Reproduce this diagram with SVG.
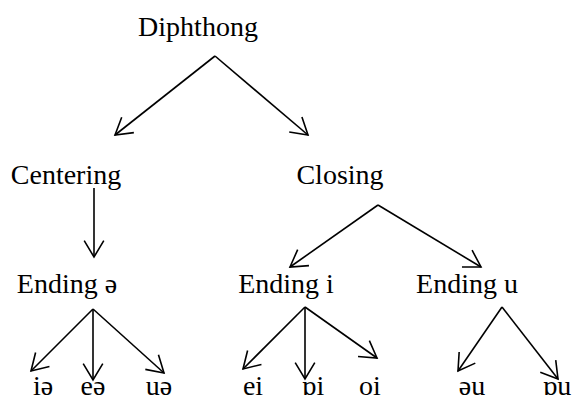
<svg xmlns="http://www.w3.org/2000/svg" width="574" height="400" viewBox="0 0 574 400">
<defs>
<style>
text{font-family:"Liberation Serif","Times New Roman",serif;font-size:28px;fill:#000;text-anchor:middle}
.c line{stroke:#000;stroke-width:1.6;marker-end:url(#ah)}
</style>
<marker id="ah" markerUnits="userSpaceOnUse" markerWidth="40" markerHeight="40" refX="20" refY="20" orient="auto" viewBox="0 0 40 40">
<path d="M3.7,10.2 L20,20 L3.7,29.8" fill="none" stroke="#000" stroke-width="1.6"/>
</marker>
</defs>
<rect width="574" height="400" fill="#fff"/>
<g id="diphthong"><text x="198" y="36">Diphthong</text></g>
<g id="centering"><text x="66" y="184">Centering</text></g>
<g id="closing"><text x="340" y="184">Closing</text></g>
<g id="ending-schwa"><text x="67" y="293">Ending ə</text></g>
<g id="ending-i"><text x="286" y="293">Ending i</text></g>
<g id="ending-u"><text x="467" y="293">Ending u</text></g>
<g id="ia"><text x="43" y="395">iə</text></g>
<g id="ea"><text x="93" y="395">eə</text></g>
<g id="ua"><text x="159" y="395">uə</text></g>
<g id="ei"><text x="253" y="395">ei</text></g>
<g id="oi1"><text x="313" y="395">ɒi</text></g>
<g id="oi2"><text x="370" y="395">oi</text></g>
<g id="au"><text x="472" y="395">əu</text></g>
<g id="ou"><text x="557" y="395">ɒu</text></g>
<g class="c" id="connectors">
<line x1="215" y1="56" x2="115" y2="135"/>
<line x1="215" y1="56" x2="308" y2="135"/>
<line x1="94" y1="188" x2="94" y2="257"/>
<line x1="378" y1="205" x2="290" y2="267"/>
<line x1="378" y1="205" x2="481" y2="267"/>
<line x1="93" y1="309" x2="31" y2="371"/>
<line x1="93" y1="309" x2="93" y2="380"/>
<line x1="93" y1="309" x2="164" y2="373"/>
<line x1="305" y1="307" x2="243" y2="369"/>
<line x1="305" y1="307" x2="305" y2="379"/>
<line x1="305" y1="307" x2="377" y2="358"/>
<line x1="502" y1="307" x2="458" y2="371"/>
<line x1="502" y1="307" x2="558" y2="379"/>
</g>
</svg>
